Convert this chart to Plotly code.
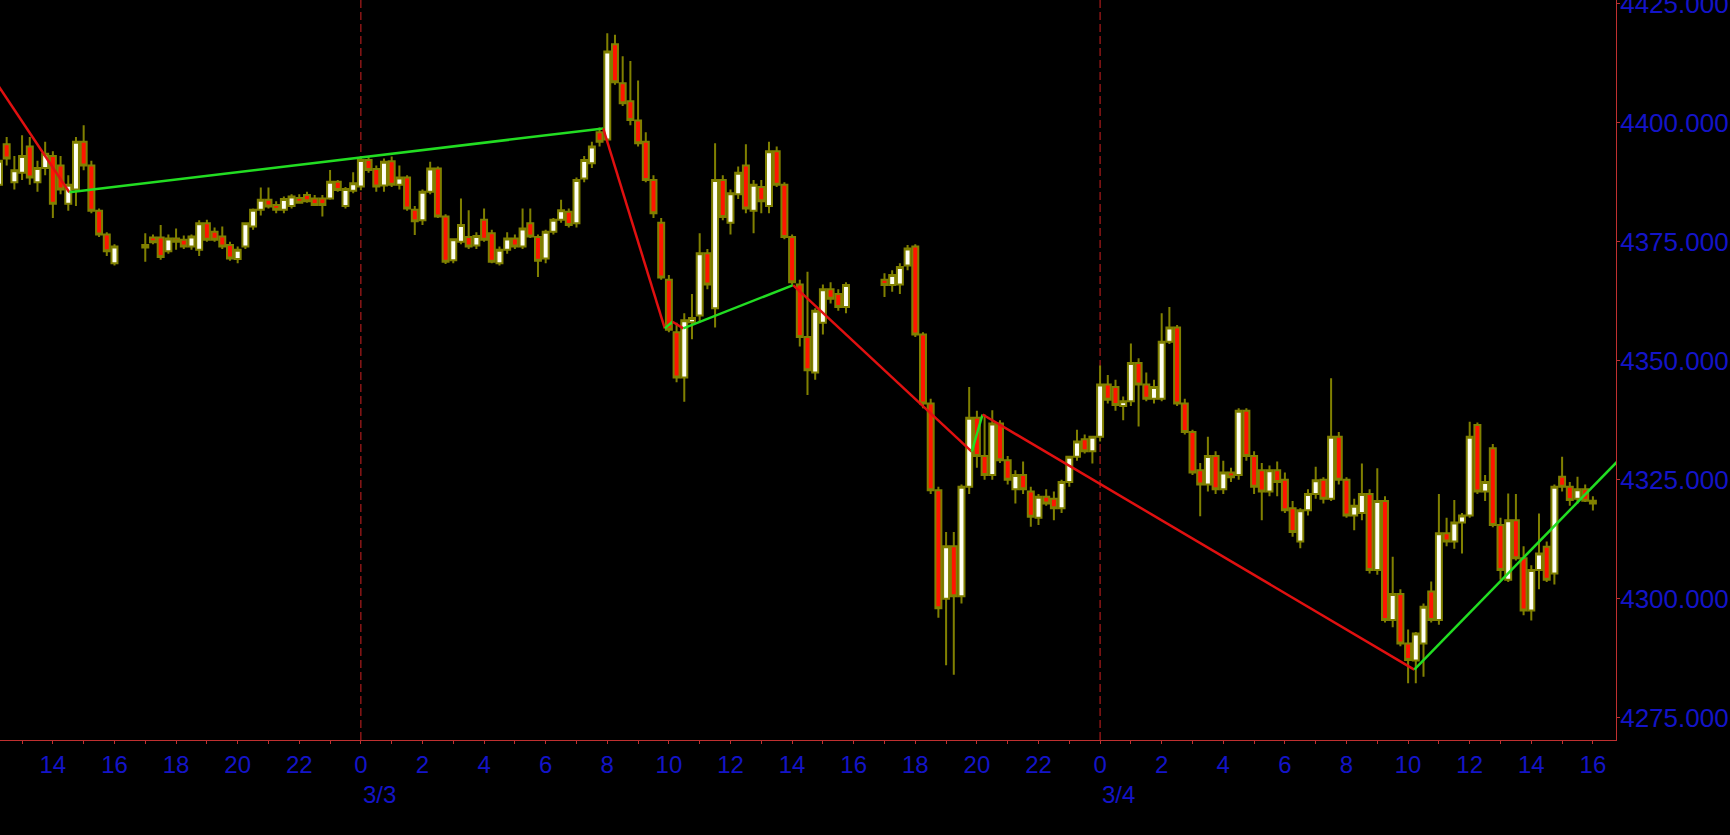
import pandas as pd
import plotly.graph_objects as go

# ---------------- data (15-minute bars) ----------------
session_starts = ["2026-03-02 12:15", "2026-03-02 17:00", "2026-03-03 17:00"]
session_ends = ["2026-03-02 16:00", "2026-03-03 15:45", "2026-03-04 16:00"]

bar_open = [
    # 3/2 12:15 - 16:00
    4387, 4395.5, 4387.5, 4389.5, 4395, 4387.5, 4390.5, 4393, 4391, 4383, 4386, 4396, 4391, 4381.5, 4376.5, 4370.5,
    # 3/2 17:00 - 23:45
    4373.8, 4375.9, 4375.9, 4373.0, 4375.7, 4375.4, 4374.0, 4373.3, 4378.9, 4377.1, 4376.1, 4374.3, 4371.4, 4374.0,
    4378.2, 4381.7, 4383.8, 4382.7, 4381.7, 4382.5, 4384.2, 4384.8, 4384.1, 4384.1, 4384.1, 4387.6, 4382.5, 4385.7,
    # 3/3 00:00 - 15:45
    4386.6, 4392.2, 4390.3, 4386.8, 4391.9, 4387.0, 4388.5, 4381.7, 4379.5, 4385.5, 4390.4, 4380.3,
    4371.1, 4375.0, 4376.0, 4374.2, 4379.6, 4376.8, 4370.5, 4373.3, 4375.7, 4374.0, 4378.9, 4376.0,
    4371.5, 4377.1, 4379.6, 4381.3, 4378.9, 4388.3, 4391.5, 4398.0, 4396.5, 4416.5, 4408.3, 4404.5,
    4400.5, 4396.0, 4388.0, 4379.0, 4367.0, 4356.0, 4346.5, 4358.1, 4359.5, 4372.6, 4361.0, 4388.0,
    4379.0, 4385.0, 4391.0, 4381.5, 4386.5, 4382.5, 4394.0, 4387.0, 4376.0, 4366.0, 4355.0, 4347.5,
    4358.0, 4365.0, 4364.0, 4361.3,
    # 3/3 17:00 - 23:45
    4367.0, 4365.9, 4366.0, 4370.0, 4374.0, 4355.5, 4341.0, 4322.8, 4300.0, 4311.0, 4300.5, 4323.5, 4338.0, 4330.0,
    4326.0, 4336.8, 4329.1, 4323.0, 4326.0, 4322.5, 4317.0, 4321.4, 4321.0, 4319.0, 4324.5, 4329.8, 4333.5, 4331.0,
    # 3/4 00:00 - 16:00
    4334.0, 4345.0, 4344.5, 4340.5, 4341.5, 4349.5, 4345.0, 4342.0, 4342.0, 4354.0, 4357.0, 4341.0,
    4335.0, 4327.0, 4324.0, 4330.0, 4323.0, 4326.5, 4326.0, 4339.5, 4330.0, 4327.0, 4322.5, 4327.0,
    4325.0, 4319.0, 4312.0, 4318.6, 4322.0, 4325.0, 4321.0, 4334.0, 4325.0, 4317.5, 4318.0, 4322.0,
    4306.0, 4320.5, 4295.5, 4301.0, 4290.6, 4287.0, 4290.6, 4301.5, 4295.5, 4313.75, 4312.0, 4316.0,
    4317.5, 4336.5, 4322.5, 4331.6, 4315.5, 4304.0, 4316.5, 4308.5, 4297.5, 4306.0, 4310.9, 4305.3,
    4325.6, 4323.5, 4321.0, 4323.0, 4320.0,
]

bar_high = [
    4394, 4397, 4393, 4397.4, 4397, 4392, 4396, 4394, 4393, 4389, 4397, 4399.5, 4392, 4382, 4377, 4374.5,
    4376.8, 4376.5, 4378.5, 4376.5, 4377.8, 4376.3, 4376.5, 4379.5, 4379.6, 4378.0, 4378.2, 4375.0, 4374.0, 4379.0,
    4382.0, 4386.4, 4386.4, 4383.5, 4384.5, 4385.0, 4385.0, 4385.5, 4384.8, 4384.8, 4390.1, 4388.0, 4386.5, 4389.6,
    4393.0, 4393.0, 4391.0, 4392.5, 4392.9, 4391.0, 4389.0, 4382.5, 4386.0, 4391.8, 4390.8, 4380.8,
    4375.5, 4384.1, 4381.6, 4377.0, 4382.0, 4377.5, 4374.0, 4377.0, 4376.5, 4382.0, 4382.0, 4376.5,
    4377.5, 4380.0, 4383.8, 4382.0, 4388.5, 4393.0, 4396.0, 4399.0, 4418.8, 4418.5, 4414.0, 4413.0,
    4408.9, 4398.0, 4389.0, 4380.0, 4368.0, 4358.0, 4360.0, 4364.0, 4376.8, 4373.5, 4395.7, 4389.0,
    4386.0, 4390.8, 4395.5, 4388.0, 4388.0, 4396.0, 4395.0, 4387.5, 4376.5, 4367.0, 4368.7, 4361.0,
    4366.0, 4366.5, 4365.0, 4366.5,
    4368.4, 4369.0, 4370.5, 4374.3, 4374.5, 4356.0, 4342.0, 4323.5, 4314.0, 4314.0, 4324.0, 4344.5, 4339.5, 4338.7,
    4339.6, 4337.5, 4330.0, 4327.0, 4328.8, 4323.5, 4322.0, 4323.0, 4322.5, 4325.0, 4330.0, 4335.5, 4334.5, 4334.0,
    4349.0, 4347.0, 4346.0, 4342.5, 4353.6, 4350.5, 4347.5, 4346.0, 4360.0, 4361.3, 4357.5, 4342.0,
    4335.5, 4328.5, 4334.0, 4331.0, 4329.0, 4327.5, 4340.0, 4340.0, 4331.0, 4328.5, 4328.0, 4328.8,
    4326.5, 4320.5, 4319.0, 4323.0, 4327.7, 4325.5, 4346.3, 4335.0, 4325.5, 4321.0, 4328.4, 4323.0,
    4327.4, 4321.5, 4308.8, 4302.0, 4293.5, 4293.0, 4299.0, 4303.6, 4322.0, 4317.0, 4320.75, 4318.0,
    4337.2, 4337.0, 4326.0, 4332.5, 4317.0, 4322.1, 4322.0, 4311.0, 4307.0, 4317.9, 4312.0, 4324.0,
    4329.8, 4324.5, 4325.6, 4324.0, 4321.5,
]

bar_low = [
    4385, 4391, 4386, 4388, 4387, 4385.5, 4389, 4380, 4385, 4381.5, 4382.5, 4390, 4381, 4376, 4372, 4370,
    4370.8, 4374.5, 4371.2, 4372.5, 4373.3, 4373.5, 4373.3, 4372.0, 4375.0, 4375.0, 4373.5, 4371.0, 4370.5, 4373.5,
    4377.5, 4380.5, 4382.0, 4381.0, 4381.0, 4382.0, 4383.0, 4383.2, 4382.5, 4380.3, 4383.8, 4385.5, 4382.0, 4385.2,
    4385.8, 4389.5, 4385.5, 4385.5, 4386.5, 4386.0, 4381.5, 4376.4, 4378.5, 4385.0, 4380.0, 4370.3,
    4370.5, 4374.5, 4373.5, 4373.5, 4375.0, 4370.5, 4370.0, 4372.5, 4373.5, 4373.5, 4375.8, 4367.6,
    4370.5, 4376.5, 4379.0, 4378.0, 4378.0, 4387.5, 4390.5, 4395.0, 4396.0, 4408.0, 4403.5, 4399.5,
    4395.0, 4387.5, 4380.0, 4367.0, 4356.0, 4345.5, 4341.4, 4354.5, 4358.0, 4365.0, 4357.0, 4379.5,
    4376.5, 4384.0, 4381.0, 4376.8, 4381.0, 4381.0, 4386.5, 4375.5, 4366.0, 4353.0, 4342.8, 4346.0,
    4355.5, 4362.0, 4360.5, 4360.0,
    4363.4, 4364.5, 4364.0, 4369.0, 4355.0, 4340.0, 4322.0, 4296.0, 4286.0, 4284.0, 4299.0, 4322.0, 4327.5, 4325.0,
    4325.0, 4328.5, 4324.0, 4320.0, 4322.0, 4315.1, 4315.5, 4319.5, 4316.5, 4318.0, 4323.5, 4329.0, 4330.5, 4328.4,
    4333.0, 4341.0, 4339.5, 4337.5, 4340.5, 4336.2, 4341.5, 4341.0, 4341.5, 4353.5, 4340.5, 4334.5,
    4326.0, 4317.3, 4322.5, 4322.0, 4322.0, 4324.5, 4325.0, 4329.0, 4322.0, 4316.5, 4321.5, 4321.5,
    4318.0, 4313.0, 4310.6, 4317.5, 4321.0, 4320.0, 4320.5, 4324.0, 4317.0, 4314.4, 4316.5, 4305.3,
    4305.0, 4295.0, 4294.0, 4290.0, 4282.2, 4282.2, 4283.6, 4295.0, 4294.5, 4311.0, 4310.5, 4309.5,
    4317.0, 4322.0, 4320.5, 4315.0, 4304.0, 4303.5, 4308.0, 4296.5, 4295.4, 4302.0, 4303.5, 4303.0,
    4322.5, 4319.5, 4320.0, 4320.3, 4318.5,
]

bar_close = [
    4392, 4392.5, 4390, 4393, 4388.5, 4390.5, 4393.5, 4383, 4386, 4387, 4396, 4391, 4381.5, 4376.5, 4373, 4374,
    4374.3, 4374.9, 4371.8, 4375.7, 4375.0, 4374.0, 4376.1, 4378.9, 4375.4, 4375.4, 4374.0, 4371.5, 4373.3, 4378.9,
    4381.7, 4383.8, 4382.4, 4381.7, 4384.0, 4384.5, 4383.2, 4383.5, 4382.7, 4382.7, 4387.6, 4385.9, 4386.1, 4387.3,
    4392.2, 4390.1, 4386.6, 4391.8, 4387.0, 4388.5, 4382.0, 4379.3, 4385.5, 4390.4, 4380.3, 4370.8,
    4375.5, 4378.5, 4374.0, 4376.2, 4375.4, 4370.8, 4373.3, 4375.7, 4374.0, 4377.8, 4376.1, 4371.0,
    4377.1, 4379.6, 4381.6, 4378.5, 4388.0, 4392.2, 4395.0, 4396.0, 4415.0, 4408.5, 4404.1, 4400.6,
    4395.7, 4388.0, 4381.0, 4367.5, 4356.5, 4346.5, 4358.5, 4359.0, 4372.6, 4366.0, 4388.0, 4380.2,
    4385.2, 4389.5, 4382.0, 4387.0, 4383.5, 4394.0, 4387.0, 4376.0, 4366.5, 4355.0, 4348.0, 4360.5,
    4365.0, 4363.0, 4361.3, 4365.9,
    4365.9, 4368.0, 4369.7, 4373.6, 4355.5, 4341.0, 4322.8, 4298.0, 4311.0, 4300.5, 4323.5, 4338.0, 4330.0, 4326.0,
    4336.8, 4329.1, 4325.0, 4326.0, 4323.0, 4317.2, 4321.4, 4320.0, 4319.0, 4324.5, 4329.8, 4333.0, 4331.0, 4334.0,
    4345.0, 4341.8, 4340.7, 4341.5, 4349.5, 4345.0, 4342.0, 4344.5, 4354.0, 4357.0, 4341.0, 4335.0,
    4326.5, 4324.0, 4330.0, 4323.0, 4326.5, 4325.5, 4339.5, 4330.0, 4323.5, 4322.5, 4327.0, 4324.5,
    4318.6, 4314.0, 4318.6, 4322.0, 4324.9, 4321.0, 4334.0, 4325.0, 4317.5, 4319.5, 4322.0, 4306.0,
    4320.5, 4295.5, 4301.0, 4290.6, 4287.1, 4292.7, 4298.3, 4295.5, 4313.75, 4312.0, 4316.0, 4317.5,
    4334.0, 4322.5, 4324.5, 4315.5, 4306.0, 4316.5, 4308.5, 4297.5, 4306.0, 4309.5, 4304.0, 4323.5,
    4323.5, 4320.75, 4323.0, 4320.6, 4320.6,
]

# zigzag pivots
zz_times = ["2026-03-02 11:00", "2026-03-02 14:32", "2026-03-03 07:52", "2026-03-03 09:52",
            "2026-03-03 10:07", "2026-03-03 10:28", "2026-03-03 14:02", "2026-03-03 19:50",
            "2026-03-03 20:11", "2026-03-04 10:12", "2026-03-04 17:00"]
zz_prices = [4419.7, 4385.4, 4398.8, 4356.8, 4358.2, 4356.8, 4365.9, 4330.9, 4338.7, 4285.1, 4330.2]

# axis ticks
x_tick_times = pd.date_range("2026-03-02 14:00", "2026-03-04 16:00", freq="2h")
x_tick_text = ["14", "16", "18", "20", "22",
               "0", "2", "4", "6", "8", "10", "12", "14", "16", "18", "20", "22",
               "0", "2", "4", "6", "8", "10", "12", "14", "16"]
day_times = ["2026-03-03 00:00", "2026-03-04 00:00"]
day_labels = ["3/3", "3/4"]
y_tick_vals = [4275, 4300, 4325, 4350, 4375, 4400, 4425]
x_range = ["2026-03-02 12:17", "2026-03-04 16:45"]
y_range = [4270.3, 4425.8]

# ---------------- figure ----------------
times = pd.DatetimeIndex([])
for s, e in zip(session_starts, session_ends):
    times = times.append(pd.date_range(s, e, freq="15min"))

AXIS = "#c03030"
BLUE = "#1414c8"
FONT = "Liberation Sans"

fig = go.Figure()
fig.add_trace(go.Candlestick(
    x=times, open=bar_open, high=bar_high, low=bar_low, close=bar_close,
    increasing=dict(fillcolor="#fffff4", line=dict(color="#808000", width=2)),
    decreasing=dict(fillcolor="#ff1500", line=dict(color="#808000", width=2)),
    whiskerwidth=0, showlegend=False, hoverinfo="skip",
))

zz_t = pd.to_datetime(zz_times)
for i in range(len(zz_prices) - 1):
    up = zz_prices[i + 1] > zz_prices[i]
    fig.add_trace(go.Scatter(
        x=[zz_t[i], zz_t[i + 1]], y=[zz_prices[i], zz_prices[i + 1]],
        mode="lines", line=dict(color="#22dd22" if up else "#e01010", width=2.5),
        showlegend=False, hoverinfo="skip",
    ))

for t in day_times:
    fig.add_shape(type="line", x0=t, x1=t, y0=0, y1=1, xref="x", yref="paper",
                  line=dict(color="#d02020", width=1, dash="8px,4px"), layer="below")

for t, lab in zip(day_times, day_labels):
    fig.add_annotation(x=t, y=-0.0743, xref="x", yref="paper", text=lab,
                       showarrow=False, xanchor="left", yanchor="middle",
                       font=dict(family=FONT, size=24, color=BLUE))

fig.update_layout(
    width=1730, height=835,
    margin=dict(l=0, r=114, t=0, b=95, autoexpand=False),
    paper_bgcolor="black", plot_bgcolor="black",
    showlegend=False,
    boxgap=0.12, boxgroupgap=0.12,
    xaxis=dict(
        type="date", range=x_range, rangeslider=dict(visible=False),
        automargin=False,
        tickvals=x_tick_times, ticktext=x_tick_text,
        ticks="outside", ticklen=3, tickcolor=AXIS,
        minor=dict(ticks="outside", dtick=3600000, ticklen=3, tickcolor=AXIS),
        showline=True, linecolor=AXIS, linewidth=1,
        showgrid=False, zeroline=False,
        tickfont=dict(family=FONT, size=24, color=BLUE),
    ),
    yaxis=dict(
        side="right", range=y_range, tickvals=y_tick_vals, tickformat=".3f",
        automargin=False,
        ticks="outside", ticklen=3, tickcolor=AXIS,
        showline=True, linecolor=AXIS, linewidth=1,
        showgrid=False, zeroline=False, ticklabeloverflow="allow",
        ticklabelstandoff=-5,
        tickfont=dict(family=FONT, size=26, color=BLUE),
    ),
)

fig.write_html("out.html", config={"displayModeBar": False},
               post_script="document.body.style.margin='0px';")
